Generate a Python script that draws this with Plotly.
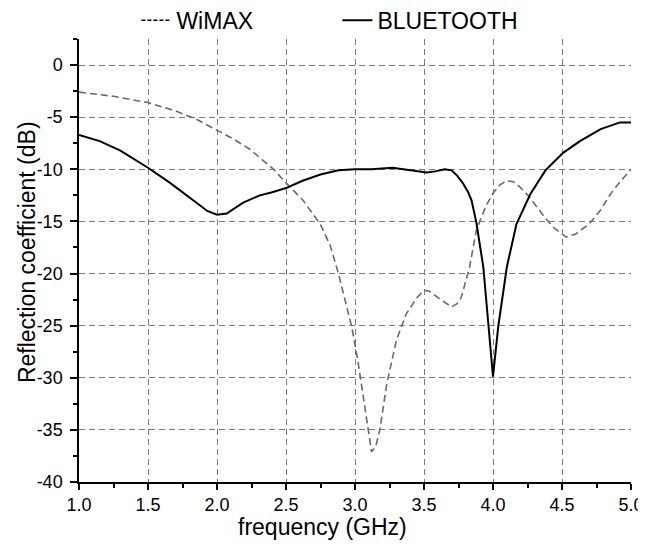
import plotly.graph_objects as go

# ---- data ----
wimax_f = [1.0, 1.25, 1.5, 1.7, 1.85, 2.0, 2.12, 2.24, 2.35, 2.41, 2.5, 2.625, 2.75, 2.82, 2.88,
           2.93, 2.976, 3.02, 3.07, 3.10, 3.12, 3.15, 3.18, 3.23, 3.30, 3.37, 3.45, 3.50, 3.54,
           3.62, 3.70, 3.74, 3.77, 3.83, 3.88, 3.91, 3.95, 4.0, 4.05, 4.10, 4.15, 4.196, 4.26,
           4.32, 4.38, 4.44, 4.53, 4.60, 4.70, 4.78, 4.85, 4.92, 5.0]
wimax_db = [-2.6, -3.0, -3.6, -4.4, -5.2, -6.3, -7.1, -8.1, -9.3, -10.0, -11.3, -13.0, -15.3, -17.3, -20.0,
            -22.6, -25.1, -28.3, -32.8, -35.5, -37.1, -36.6, -35.0, -30.6, -26.4, -23.9, -22.3, -21.6, -21.7,
            -22.5, -23.2, -22.9, -22.3, -19.4, -15.8, -14.8, -13.5, -12.3, -11.5, -11.1, -11.2, -11.7, -12.6,
            -13.65, -14.7, -15.6, -16.5, -16.2, -15.2, -13.9, -12.4, -11.2, -10.0]

bt_f = [1.0, 1.08, 1.15, 1.3, 1.5, 1.66, 1.83, 1.93, 2.0, 2.07, 2.19, 2.31, 2.4, 2.5, 2.62, 2.75,
        2.88, 3.0, 3.12, 3.2, 3.27, 3.35, 3.45, 3.52, 3.58, 3.65, 3.70, 3.74, 3.78, 3.82, 3.845,
        3.88, 3.93, 3.966, 4.0, 4.038, 4.10, 4.17, 4.27, 4.38, 4.51, 4.63, 4.78, 4.92, 5.0]
bt_db = [-6.7, -7.0, -7.3, -8.2, -9.85, -11.3, -13.0, -14.0, -14.35, -14.25, -13.2, -12.5, -12.2, -11.8, -11.1, -10.5,
         -10.1, -10.0, -10.0, -9.9, -9.85, -10.0, -10.2, -10.3, -10.2, -10.0, -10.1, -10.6, -11.3, -12.2, -13.0,
         -15.15, -19.4, -25.1, -29.9, -25.1, -19.4, -15.25, -12.4, -10.1, -8.4, -7.3, -6.15, -5.5, -5.5]

x_ticks = [1.0, 1.5, 2.0, 2.5, 3.0, 3.5, 4.0, 4.5, 5.0]
x_grid = [1.5, 2.0, 2.5, 3.0, 3.5, 4.0, 4.5]
y_ticks = [-40, -35, -30, -25, -20, -15, -10, -5, 0]
y_ticklabels = ["-40", "-35", "-30", "-25", "-20", "-15", "-10", "-5", "0"]
y_grid = [-35, -30, -25, -20, -15, -10, -5, 0]

x_title = "frequency (GHz)"
y_title = "Reflection coefficient (dB)"

FONT = "Liberation Sans, Arial, sans-serif"
XR = [1.0, 5.0]
YR = [-40, 2.5]

fig = go.Figure()
fig.add_trace(go.Scatter(x=wimax_f, y=wimax_db, mode="lines", name="WiMAX", showlegend=False,
                         line=dict(color="#6a6a6a", width=1.6, dash="7px,4px")))
fig.add_trace(go.Scatter(x=bt_f, y=bt_db, mode="lines", name="BLUETOOTH", showlegend=False,
                         line=dict(color="black", width=2)))
# legend entries
fig.add_trace(go.Scatter(x=[None], y=[None], mode="lines", name="WiMAX", xaxis="x2", yaxis="y2",
                         line=dict(color="black", width=1.5, dash="4px,2px")))
fig.add_trace(go.Scatter(x=[None], y=[None], mode="lines", name="BLUETOOTH", xaxis="x2", yaxis="y2",
                         line=dict(color="black", width=2)))

grid_style = dict(showgrid=True, gridcolor="#7a7a7a", gridwidth=1, griddash="6px,4px",
                  showticklabels=False, ticks="", showline=False, zeroline=False,
                  tickmode="array")

fig.update_layout(
    width=638, height=536,
    paper_bgcolor="white", plot_bgcolor="white",
    margin=dict(l=71, r=15, t=30.5, b=61.5, autoexpand=False),
    font=dict(family=FONT, color="black"),
    showlegend=True,
    legend=dict(orientation="h", x=0.104, xanchor="left", y=1.042, yanchor="middle",
                font=dict(size=23, family=FONT), bgcolor="rgba(0,0,0,0)",
                entrywidth=156, entrywidthmode="pixels", traceorder="normal"),
    xaxis=dict(range=XR, tickvals=x_grid, **grid_style),
    yaxis=dict(range=YR, tickvals=y_grid, **grid_style),
    xaxis2=dict(range=XR, overlaying="x", anchor="y2", side="bottom",
                tickmode="array", tickvals=x_ticks, ticktext=[f"{v:.1f}" for v in x_ticks],
                showgrid=False, zeroline=False, showline=True, linecolor="black", linewidth=1.5,
                ticks="outside", ticklen=6, tickwidth=1.5, tickcolor="black",
                tickfont=dict(size=18, family=FONT),
                minor=dict(tickmode="linear", tick0=1.0, dtick=0.25, ticks="outside", ticklen=4,
                           tickwidth=1.5, tickcolor="black", showgrid=False)),
    yaxis2=dict(range=YR, overlaying="y", anchor="x2", side="left",
                tickmode="array", tickvals=y_ticks, ticktext=y_ticklabels,
                showgrid=False, zeroline=False, showline=True, linecolor="black", linewidth=1.5,
                ticks="outside", ticklen=7, tickwidth=1.5, tickcolor="black",
                tickfont=dict(size=18, family=FONT), ticklabelstandoff=4,
                minor=dict(tickmode="linear", tick0=0, dtick=2.5, ticks="outside", ticklen=4,
                           tickwidth=1.5, tickcolor="black", showgrid=False)),
    annotations=[
        dict(text=x_title, xref="paper", yref="paper", x=0.442, y=-0.1025,
             xanchor="center", yanchor="middle", showarrow=False,
             font=dict(size=23, family=FONT, color="black")),
        dict(text=y_title, xref="paper", yref="paper", x=-0.0942, y=0.519,
             xanchor="center", yanchor="middle", showarrow=False, textangle=-90,
             font=dict(size=23, family=FONT, color="black")),
    ],
)

fig.write_html("out.html")
